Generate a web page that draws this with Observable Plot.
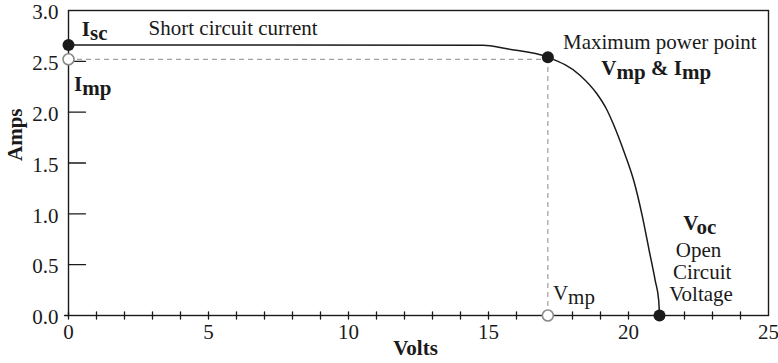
<!DOCTYPE html>
<html><head><meta charset="utf-8">
<script src="https://cdn.jsdelivr.net/npm/d3@7"></script>
<script src="https://cdn.jsdelivr.net/npm/@observablehq/plot@0.6"></script>
<style>body{margin:0;background:#fff;}</style>
</head><body><div id="chart"></div>
<script>
// I-V curve of a solar panel
const curveVolts = [0, 14.81, 15.66, 17.12, 18.275, 18.871, 19.204, 19.454, 19.846, 20.204, 20.489, 20.739, 20.954, 21.079, 21.107];
const curveAmps  = [2.66, 2.659, 2.623, 2.541, 2.361, 2.181, 2.036, 1.886, 1.606, 1.311, 0.983, 0.639, 0.344, 0.148, 0];

const isc = 2.66, imp = 2.52, vmp = 17.12, voc = 21.107, mppAmps = 2.54;

const xTickLabels = [0, 5, 10, 15, 20, 25];
const xMinorTicks = [0,1,2,3,4,5,6,7,8,9,10,11,12,13,14,15,16,17,18,19,20,21,22,23,24];
const yTickLabels = [0, 0.5, 1, 1.5, 2, 2.5, 3];
const yInnerTicks = [0.5, 1, 1.5, 2, 2.5];

const labelText   = ["Short circuit current", "I_{sc}", "I_{mp}", "Maximum power point", "V_{mp} & I_{mp}", "V_{oc}", "Open", "Circuit", "Voltage", "V_{mp}"];
const labelVolts  = [2.86, 0.475, 0.2, 21.12, 20.99, 22.55, 22.5, 22.63, 22.59, 17.3];
const labelAmps   = [2.83, 2.82, 2.27, 2.69, 2.43, 0.905, 0.645, 0.43, 0.212, 0.216];
const labelAnchor = ["start","start","start","middle","middle","middle","middle","middle","middle","start"];
const labelWeight = ["normal","bold","bold","normal","bold","bold","normal","normal","normal","normal"];

const curve = curveVolts.map((v, i) => ({v, a: curveAmps[i]}));
const filledDots = [{v: 0, a: isc}, {v: vmp, a: mppAmps}, {v: voc, a: 0}];
const openDots = [{v: 0, a: imp}, {v: vmp, a: 0}];
const rows = labelText.map((t, i) => ({t, v: labelVolts[i], a: labelAmps[i], anchor: labelAnchor[i], weight: labelWeight[i]}));

const ink = "#1a1a1a";
const fs = 21;
const tickLine = {draw(context, l) { context.moveTo(0, 0); context.lineTo(0, -l); }};

const textMarks = [];
for (const anchor of ["start", "middle"]) for (const weight of ["normal", "bold"]) {
  const sub = rows.filter(r => r.anchor === anchor && r.weight === weight);
  if (sub.length) textMarks.push(Plot.text(sub, {x: "v", y: "a", text: "t", textAnchor: anchor, fontWeight: weight, fontSize: fs, fill: ink}));
}

const chart = Plot.plot({
  width: 778, height: 363,
  marginLeft: 68, marginRight: 10, marginTop: 10, marginBottom: 48,
  style: {fontFamily: "'Liberation Serif', 'Times New Roman', serif", fontSize: fs + "px", background: "white", color: ink},
  x: {domain: [0, 25]},
  y: {domain: [0, 3]},
  marks: [
    Plot.ruleY([imp], {x1: 0, x2: vmp, stroke: "#8a8a8a", strokeWidth: 1, strokeDasharray: "5,4"}),
    Plot.ruleX([vmp], {y1: 0, y2: imp, stroke: "#8a8a8a", strokeWidth: 1, strokeDasharray: "5,4"}),
    Plot.vector(xMinorTicks, {x: d => d, y: 0, length: 7, rotate: 0, anchor: "middle", shape: tickLine, stroke: ink, strokeWidth: 1.3}),
    Plot.vector(yInnerTicks, {x: 0, y: d => d, length: 17, rotate: 90, anchor: "start", shape: tickLine, stroke: ink, strokeWidth: 1.3}),
    Plot.vector([0], {x: 0, y: d => d, length: 4, rotate: -90, anchor: "start", shape: tickLine, stroke: ink, strokeWidth: 1.3}),
    Plot.frame({stroke: ink, strokeWidth: 1.4}),
    Plot.line(curve, {x: "v", y: "a", stroke: ink, strokeWidth: 1.5, curve: "monotone-x"}),
    Plot.axisX({ticks: xTickLabels, tickSize: 0, tickPadding: 9, fontSize: fs, fill: ink, label: null}),
    Plot.axisY({ticks: yTickLabels, tickSize: 0, tickPadding: 10, dy: 2, tickFormat: d3.format(".1f"), fontSize: fs, fill: ink, label: null}),
    Plot.dot(openDots, {x: "v", y: "a", r: 5.5, stroke: "#8a8a8a", strokeWidth: 1.6, fill: "white"}),
    Plot.dot(filledDots, {x: "v", y: "a", r: 6, fill: ink, stroke: "none"}),
    ...textMarks,
    Plot.text(["Volts"], {text: d => d, frameAnchor: "bottom", dx: -3, dy: 39, fontWeight: "bold", fontSize: fs, fill: ink}),
    Plot.text(["Amps"], {text: d => d, frameAnchor: "left", dx: -53, dy: -2, rotate: -90, fontWeight: "bold", fontSize: fs, fill: ink})
  ]
});

document.getElementById("chart").appendChild(chart);

// turn "_{...}" into subscript tspans
const NS = "http://www.w3.org/2000/svg";
chart.querySelectorAll("text").forEach(el => {
  const s = el.textContent;
  if (!s.includes("_{")) return;
  const parts = s.split(/_\{([^}]*)\}/);
  while (el.firstChild) el.removeChild(el.firstChild);
  let down = false;
  parts.forEach((p, i) => {
    if (!p) return;
    const ts = document.createElementNS(NS, "tspan");
    ts.textContent = p;
    const isSub = i % 2 === 1;
    if (isSub && !down) { ts.setAttribute("dy", "4"); down = true; }
    else if (!isSub && down) { ts.setAttribute("dy", "-4"); down = false; }
    el.appendChild(ts);
  });
});
</script>
</body></html>
